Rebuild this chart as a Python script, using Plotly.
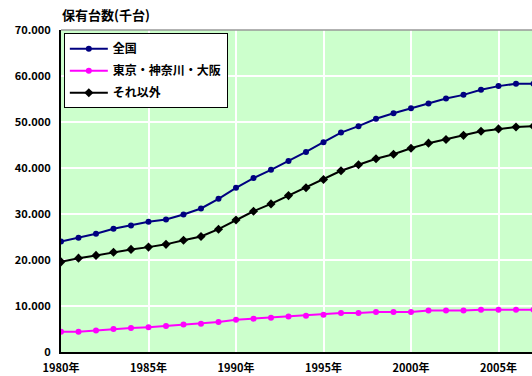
import plotly.graph_objects as go

# 保有台数（千台）: 1980年〜2007年
years = list(range(1980, 2008))

zenkoku = [24.0, 24.85, 25.7, 26.8, 27.5, 28.3, 28.8, 29.9, 31.2, 33.3,
           35.7, 37.8, 39.6, 41.5, 43.5, 45.6, 47.7, 49.1, 50.7, 51.9,
           53.0, 54.0, 55.1, 55.9, 57.0, 57.8, 58.3, 58.3]

tokyo_kanagawa_osaka = [4.4, 4.4, 4.7, 5.0, 5.2, 5.4, 5.65, 6.0, 6.15, 6.5,
                        7.0, 7.25, 7.45, 7.7, 7.9, 8.1, 8.5, 8.5, 8.7, 8.7,
                        8.7, 9.0, 9.0, 9.0, 9.2, 9.2, 9.2, 9.2]

sore_igai = [19.6, 20.4, 21.0, 21.7, 22.3, 22.8, 23.4, 24.3, 25.1, 26.7,
             28.7, 30.6, 32.2, 34.0, 35.7, 37.5, 39.4, 40.7, 42.0, 43.0,
             44.3, 45.4, 46.2, 47.1, 48.0, 48.5, 48.9, 49.1]

x_tick_vals = [1980, 1985, 1990, 1995, 2000, 2005]
x_tick_text = [f"{y}年" for y in x_tick_vals]
y_tick_vals = [0, 10000, 20000, 30000, 40000, 50000, 60000, 70000]

FONT = "Noto Sans CJK JP"

series = [
    ("全国", zenkoku, "#000080", "circle", 6),
    ("東京・神奈川・大阪", tokyo_kanagawa_osaka, "#FF00FF", "circle", 6),
    ("それ以外", sore_igai, "#000000", "diamond", 7),
]

fig = go.Figure()
for name, vals, color, symbol, msize in series:
    fig.add_trace(go.Scatter(
        x=years,
        y=[v * 1000 for v in vals],
        name=name,
        legendgroup=name,
        mode="lines+markers",
        line=dict(color=color, width=2),
        marker=dict(color=color, symbol=symbol, size=msize),
    ))

fig.update_layout(
    width=532,
    height=376,
    margin=dict(l=61, r=0, t=30, b=24),
    paper_bgcolor="white",
    plot_bgcolor="#CCFFCC",
    separators=",.",
    font=dict(family=FONT, size=11, color="black"),
    showlegend=True,
    legend=dict(
        x=0.006, y=0.99, xanchor="left", yanchor="top",
        bgcolor="white", bordercolor="black", borderwidth=1,
        font=dict(family=FONT, size=12, color="black", weight="bold"),
        tracegroupgap=3,
        itemwidth=38,
    ),
    xaxis=dict(
        range=[1980, 2006.914],
        tickvals=x_tick_vals,
        ticktext=x_tick_text,
        showgrid=True, gridcolor="white", gridwidth=2,
        showline=True, linecolor="black", linewidth=2,
        ticks="", zeroline=False,
        automargin=False,
        ticklabelstandoff=5,
        tickfont=dict(family=FONT, size=11, weight="bold"),
    ),
    yaxis=dict(
        range=[0, 70000],
        tickvals=y_tick_vals,
        tickformat=",d",
        showgrid=True, gridcolor="white", gridwidth=2,
        showline=True, linecolor="black", linewidth=2,
        ticks="", zeroline=False,
        automargin=False,
        ticklabelstandoff=6,
        tickfont=dict(family=FONT, size=11, weight="bold"),
    ),
    shapes=[dict(type="line", xref="paper", yref="paper",
                 x0=0, x1=1, y0=1, y1=1,
                 line=dict(color="#999999", width=1.5))],
    annotations=[dict(
        text="保有台数(千台)", xref="paper", yref="paper",
        x=0, y=1, xanchor="left", yanchor="bottom", yshift=4, xshift=-1,
        showarrow=False,
        font=dict(family=FONT, size=13, color="black", weight="bold"),
    )],
)

fig.write_html("out.html")
